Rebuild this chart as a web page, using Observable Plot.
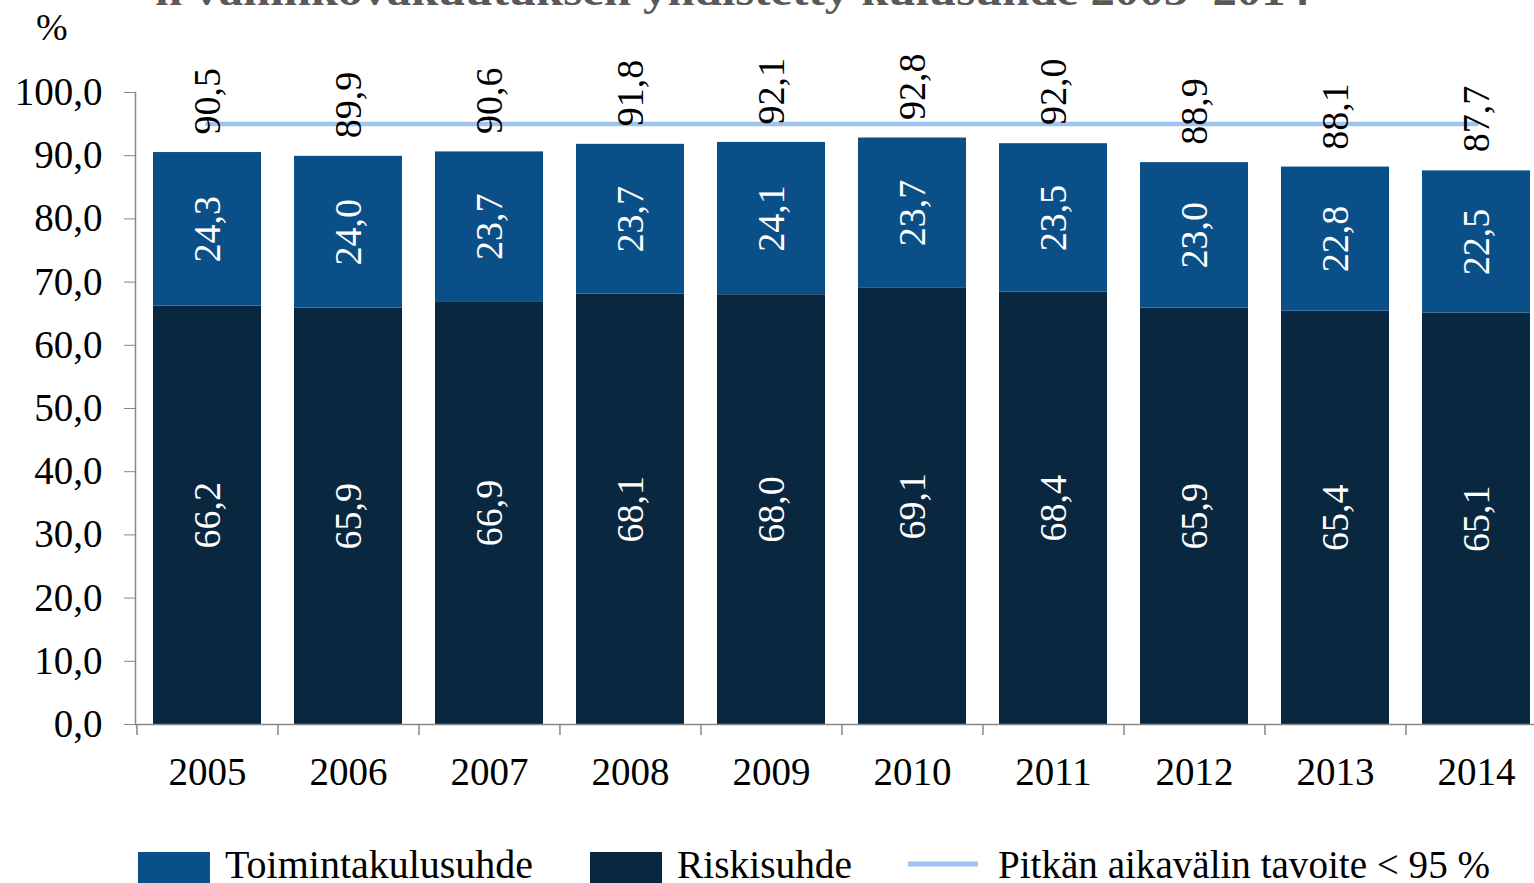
<!DOCTYPE html>
<html><head><meta charset="utf-8">
<script src="https://cdn.jsdelivr.net/npm/d3@7"></script>
<script src="https://cdn.jsdelivr.net/npm/@observablehq/plot@0.6"></script>
<style>
body{margin:0;background:#fff;overflow:hidden}
#wrap{position:relative;width:1534px;height:883px;overflow:hidden;font-family:"Liberation Serif",serif;background:#fff}
#wrap svg.overlay{position:absolute;left:0;top:0;pointer-events:none}
#chart{position:absolute;left:0;top:0}
</style></head><body><div id="wrap"><div id="chart"></div></div>
<script>
const years = ["2005","2006","2007","2008","2009","2010","2011","2012","2013","2014"];
const riskisuhde = [66.2,65.9,66.9,68.1,68.0,69.1,68.4,65.9,65.4,65.1];
const toimintakulusuhde = [24.3,24.0,23.7,23.7,24.1,23.7,23.5,23.0,22.8,22.5];
const yhteensa = [90.5,89.9,90.6,91.8,92.1,92.8,92.0,88.9,88.1,87.7];
const tavoite = 95;
const seriesNames = ["Toimintakulusuhde","Riskisuhde"];
const seriesColors = ["#0b4f88","#0a2740"];
const targetLabel = "Pitkän aikavälin tavoite < 95 %";
const targetColor = "#9dc3ef";
const yTicks = [0,10,20,30,40,50,60,70,80,90,100];
const yUnit = "%";
const titleText = "n vahinkovakuutuksen yhdistetty kulusuhde 2005–2014";

const fmt = d => d.toFixed(1).replace(".", ",");
const rows = years.flatMap((y,i)=>[
  {year:y, series:"Riskisuhde", value:riskisuhde[i]},
  {year:y, series:"Toimintakulusuhde", value:toimintakulusuhde[i]}
]);
const totals = years.map((y,i)=>({year:y, total:yhteensa[i]}));
const target = years.map(y=>({year:y, target:tavoite}));
const order = ["Riskisuhde","Toimintakulusuhde"];
const step = (1547-136)/years.length;

const chart = Plot.plot({
  width:1534, height:800,
  marginTop:92, marginLeft:135, marginRight:0, marginBottom:76,
  style:{fontFamily:"'Liberation Serif', serif", fontSize:"38px", color:"#000", background:"transparent", overflow:"visible"},
  x:{domain:years, range:[136,1547], paddingInner:0.234, paddingOuter:0.117, label:null},
  y:{domain:[0,100], label:null},
  color:{domain:seriesNames, range:seriesColors},
  marks:[
    Plot.barY(rows, {x:"year", y:"value", fill:"series", order}),
    Plot.ruleY([0], {stroke:"#888", strokeWidth:1.5}),
    Plot.frame({anchor:"left", stroke:"#888", strokeWidth:1.5}),
    Plot.ruleX(years, {x:d=>d, dx:-step/2, y1:0, y2:0, insetBottom:-11, stroke:"#888", strokeWidth:1.5}),
    Plot.axisY({ticks:yTicks, tickFormat:fmt, tickSize:11, tickPadding:22, stroke:"#888", fill:"#000", label:null, fontSize:39}),
    Plot.axisX({tickSize:0, tickPadding:33, fill:"#000", label:null, fontSize:39}),
    Plot.lineY(target, {x:"year", y:"target", stroke:targetColor, strokeWidth:4.5}),
    Plot.text(rows, Plot.stackY({x:"year", y:"value", z:"series", order, text:d=>fmt(d.value), rotate:-90, fill:"white", fontSize:38})),
    Plot.text(totals, {x:"year", y:"total", text:d=>fmt(d.total), rotate:-90, textAnchor:"start", dy:-18, fill:"#000", fontSize:38})
  ]
});
document.getElementById("chart").appendChild(chart);

// overlay: title, unit, legend
const ov = d3.select("#wrap").append("svg").attr("class","overlay").attr("width",1534).attr("height",883)
  .style("font-family","'Liberation Serif', serif");
ov.append("text").attr("x",155).attr("y",5).attr("textLength",1155).attr("lengthAdjust","spacingAndGlyphs")
  .attr("font-size",42).attr("font-weight","bold").attr("fill","#595959").text(titleText);
ov.append("text").attr("x",36).attr("y",40).attr("font-size",38).attr("fill","#000").text(yUnit);
const leg = [
  {label:seriesNames[0], color:seriesColors[0], x:138, type:"rect", len:308},
  {label:seriesNames[1], color:seriesColors[1], x:590, type:"rect", len:175},
  {label:targetLabel, color:targetColor, x:908, type:"line", len:492}
];
leg.forEach(l=>{
  if(l.type==="rect") ov.append("rect").attr("x",l.x).attr("y",852).attr("width",72).attr("height",40).attr("fill",l.color);
  else ov.append("line").attr("x1",l.x).attr("x2",l.x+70).attr("y1",864).attr("y2",864).attr("stroke",l.color).attr("stroke-width",5);
  ov.append("text").attr("x",l.x+(l.type==="rect"?87:90)).attr("y",878).attr("font-size",40)
    .attr("textLength",l.len).attr("lengthAdjust","spacingAndGlyphs").attr("fill","#000").text(l.label);
});
</script></body></html>
